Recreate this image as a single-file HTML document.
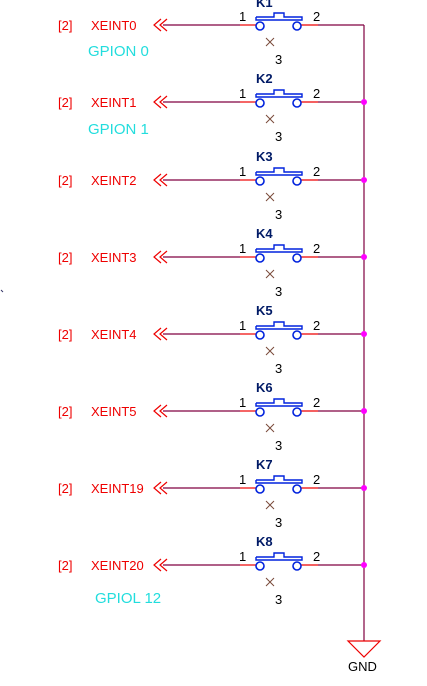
<!DOCTYPE html>
<html><head><style>
body{margin:0;background:#fff;width:427px;height:681px;overflow:hidden}
text{font-family:"Liberation Sans",sans-serif;font-size:13px}
text.g{font-size:15px;fill:#2dd}
text.k{font-size:13px;font-weight:bold;fill:#001a66}
</style></head><body>
<svg width="427" height="681" xmlns="http://www.w3.org/2000/svg">
<defs>
<g id="sw">
<text x="58" y="5" fill="#e00">[2]</text>
<polyline points="161,-6 154,0 161,6" fill="none" stroke="#e00" stroke-width="1.2"/>
<polyline points="167,-6 160,0 167,6" fill="none" stroke="#e00" stroke-width="1.2"/>
<line x1="163" y1="0" x2="240" y2="0" stroke="#800040" stroke-width="1.2"/>
<line x1="240" y1="0" x2="256" y2="0" stroke="#e00" stroke-width="1.2"/>
<line x1="301" y1="0" x2="318" y2="0" stroke="#e00" stroke-width="1.2"/>
<line x1="318" y1="0" x2="364" y2="0" stroke="#800040" stroke-width="1.2"/>
<circle cx="260" cy="1" r="4" fill="none" stroke="#0022dd" stroke-width="1.6"/>
<circle cx="297" cy="1" r="4" fill="none" stroke="#0022dd" stroke-width="1.6"/>
<polyline points="256,-8 256,-5 302,-5 302,-8 284,-8 284,-12 274,-12 274,-8 256,-8" fill="none" stroke="#0022dd" stroke-width="1.4"/>
<text x="239" y="-4" fill="#000">1</text>
<text x="313" y="-4" fill="#000">2</text>
<path d="M266 13 L274 21 M274 13 L266 21" stroke="#7a4a3a" stroke-width="1"/>
<text x="275" y="39" fill="#000">3</text>
</g>
</defs>
<line x1="364" y1="25" x2="364" y2="641" stroke="#800040" stroke-width="1.2"/>
<polygon points="348,641 380,641 364,657" fill="none" stroke="#e00" stroke-width="1.2"/>
<text x="348" y="671" fill="#000">GND</text>
<g transform="translate(0,25)"><use href="#sw"/><text x="91" y="5" fill="#e00">XEINT0</text><text class="k" x="256" y="-18">K1</text><text class="g" x="88" y="31">GPION 0</text></g>
<g transform="translate(0,102)"><use href="#sw"/><text x="91" y="5" fill="#e00">XEINT1</text><text class="k" x="256" y="-19">K2</text><text class="g" x="88" y="32">GPION 1</text></g>
<g transform="translate(0,180)"><use href="#sw"/><text x="91" y="5" fill="#e00">XEINT2</text><text class="k" x="256" y="-19">K3</text></g>
<g transform="translate(0,257)"><use href="#sw"/><text x="91" y="5" fill="#e00">XEINT3</text><text class="k" x="256" y="-19">K4</text></g>
<g transform="translate(0,334)"><use href="#sw"/><text x="91" y="5" fill="#e00">XEINT4</text><text class="k" x="256" y="-19">K5</text></g>
<g transform="translate(0,411)"><use href="#sw"/><text x="91" y="5" fill="#e00">XEINT5</text><text class="k" x="256" y="-19">K6</text></g>
<g transform="translate(0,488)"><use href="#sw"/><text x="91" y="5" fill="#e00">XEINT19</text><text class="k" x="256" y="-19">K7</text></g>
<g transform="translate(0,565)"><use href="#sw"/><text x="91" y="5" fill="#e00">XEINT20</text><text class="k" x="256" y="-19">K8</text><text class="g" x="95" y="38">GPIOL 12</text></g>
<g fill="#f0f">
<circle cx="364" cy="102" r="3"/><circle cx="364" cy="180" r="3"/><circle cx="364" cy="257" r="3"/><circle cx="364" cy="334" r="3"/><circle cx="364" cy="411" r="3"/><circle cx="364" cy="488" r="3"/><circle cx="364" cy="565" r="3"/>
</g>
<line x1="1" y1="290" x2="3" y2="292" stroke="#336" stroke-width="1"/>
</svg>
</body></html>
